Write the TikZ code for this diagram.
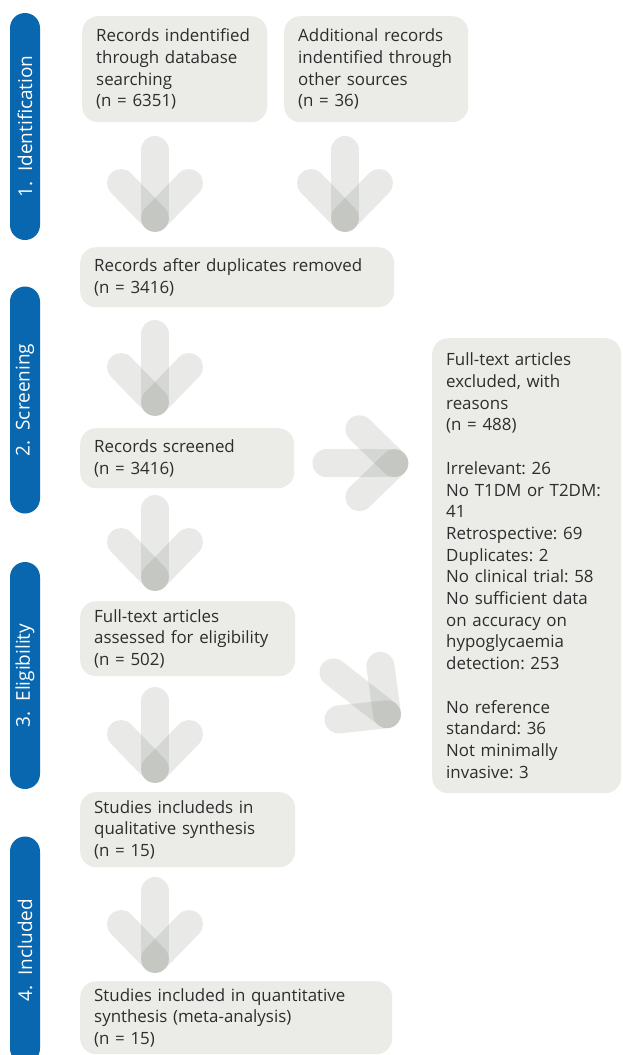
\documentclass[tikz,border=0pt]{standalone}
\usepackage{fontspec}
\setmainfont{Open Sans}
\usepackage{tikz}
\usetikzlibrary{calc,positioning}
\definecolor{stageblue}{RGB}{8,103,175}
\definecolor{boxgrey}{RGB}{235,235,231}
\definecolor{arrowgrey}{RGB}{96,104,90}
\definecolor{textgrey}{RGB}{45,45,45}
\frenchspacing

\tikzset{
    flowarrow/.pic={
        \draw[arrowstroke] (0,-68) -- (0,0);
        \draw[arrowstroke] (-34,-35) -- (0,0);
        \draw[arrowstroke] (34,-35) -- (0,0);
    }
}

\begin{document}
\begin{tikzpicture}[x=1pt, y=-1pt,
    every node/.style={font=\fontsize{16.9}{21.7}\selectfont, text=textgrey},
    recbox/.style={fill=boxgrey, rounded corners=16, anchor=north west, align=left, inner xsep=14, inner ysep=0},
    stagebar/.style={fill=stageblue, rounded corners=15, rotate=90, minimum height=30, minimum width=227, inner sep=0, text=white, font=\fontsize{19}{22}\selectfont},
    arrowstroke/.style={line width=28, line cap=round, draw=arrowgrey, draw opacity=0.14}]
    \useasboundingbox (0,0) rectangle (622,1055);
    \clip (0,0) rectangle (622,1055);

    \node[stagebar] (stage1) at (25,126.5) {1.\ \ Identification};
    \node[stagebar] (stage2) at (25,400) {2.\ \ Screening};
    \node[stagebar] (stage3) at (25,675.5) {3.\ \ Eligibility};
    \node[stagebar] (stage4) at (25,950) {4.\ \ Included};

    \node[recbox, text width=157, minimum height=106] (recdb) at (82,16) {Records indentified\\through database\\searching\\(n = 6351)};
    \node[recbox, text width=156, minimum height=106] (recother) at (284,16) {Additional records\\indentified through\\other sources\\(n = 36)};
    \node[recbox, text width=286, minimum height=60] (recdup) at (80,247) {Records after duplicates removed\\(n = 3416)};
    \node[recbox, text width=186, minimum height=60] (recscreen) at (80,428) {Records screened\\(n = 3416)};
    \node[recbox, text width=161, minimum height=455] (excluded) at (432,338) {Full-text articles\\excluded, with\\reasons\\(n = 488)\\[21.7pt]
        Irrelevant: 26\\No T1DM or T2DM:\\41\\Retrospective: 69\\Duplicates: 2\\No clinical trial: 58\\No sufficient data\\on accuracy on\\hypoglycaemia\\detection: 253\\[21.7pt]
        No reference\\standard: 36\\Not minimally\\invasive: 3};
    \node[recbox, text width=187, minimum height=75] (fulltext) at (80,601) {Full-text articles\\assessed for eligibility\\(n = 502)};
    \node[recbox, text width=187, minimum height=75] (qualit) at (80,792) {Studies includeds in\\qualitative synthesis\\(n = 15)};
    \node[recbox, text width=284, minimum height=73] (quantit) at (80,981) {Studies included in quantitative\\synthesis (meta-analysis)\\(n = 15)};

    \pic at ($(recdup.north west)+(75,-29)$) {flowarrow};
    \pic at ($(recdup.north west)+(265,-29)$) {flowarrow};
    \pic at ($(recscreen.north west)+(75,-26)$) {flowarrow};
    \pic at ($(fulltext.north west)+(75,-24)$) {flowarrow};
    \pic at ($(qualit.north west)+(75,-23)$) {flowarrow};
    \pic at ($(quantit.north west)+(75,-22)$) {flowarrow};
    \pic[rotate=90] at ($(recscreen.east)+(100,5)$) {flowarrow};
    \pic[rotate=52] at ($(excluded.west)+(-45,148.5)$) {flowarrow};
\end{tikzpicture}
\end{document}
